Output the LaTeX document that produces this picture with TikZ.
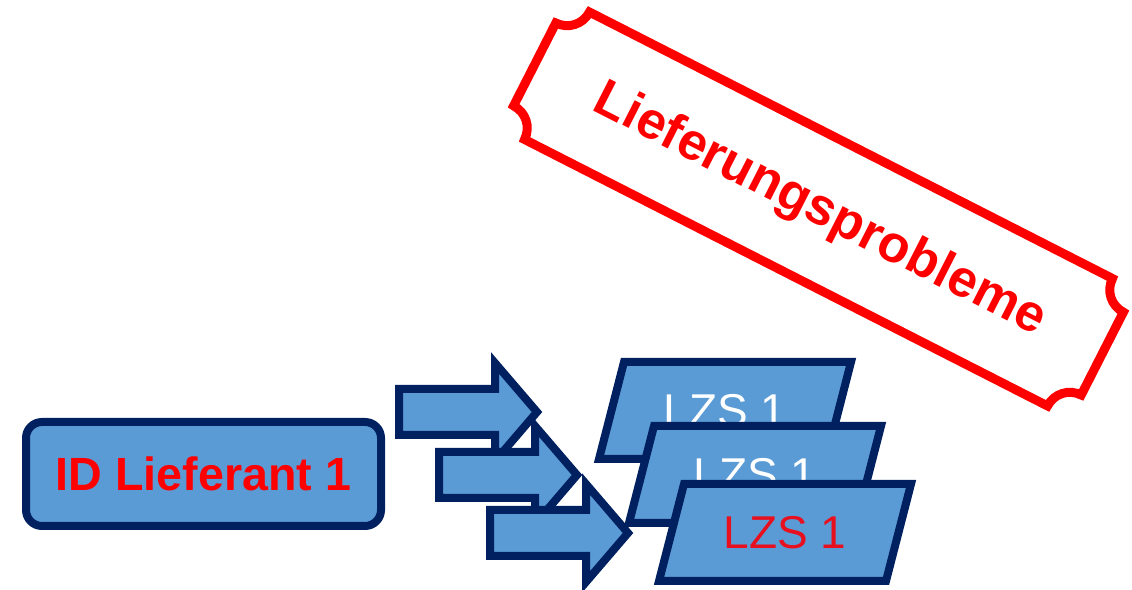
\documentclass[tikz,border=0pt]{standalone}
\usepackage{fontspec}
\setmainfont{Liberation Sans}
\definecolor{boxblue}{HTML}{5B9BD5}
\definecolor{navy}{HTML}{002060}
\definecolor{lzsred}{HTML}{E8101E}
\begin{document}
\begin{tikzpicture}
  [x=1pt,y=1pt,
   blockarrow/.style={draw=navy,fill=boxblue,line width=8pt},
   lzsbox/.style={draw=navy,fill=boxblue,line width=8pt},
   every node/.style={inner sep=0pt}]
  \useasboundingbox (0,0) rectangle (1132,589);

  % plaque
  \begin{scope}[shift={(818.5,380)},rotate=-27]
    \draw[red,line width=9pt] (-293.5,71.5) -- (293.5,71.5)
      arc[start angle=180,end angle=270,radius=25] -- (318.5,-46.5)
      arc[start angle=90,end angle=180,radius=25] -- (-293.5,-71.5)
      arc[start angle=0,end angle=90,radius=25] -- (-318.5,46.5)
      arc[start angle=270,end angle=360,radius=25] -- cycle;
  \end{scope}
  \node[rotate=-27,anchor=base,text=red,font=\bfseries\fontsize{52}{52}\selectfont] (probleme) at (813.5,366.5) {Lieferungsprobleme};

  \node[draw=navy,fill=boxblue,line width=8pt,rounded corners=16pt,
        minimum width=355pt,minimum height=104pt,text=red,
        font=\bfseries\fontsize{46.6}{50}\selectfont] (lieferant) at (203.5,115) {ID Lieferant 1};

  \foreach \x/\y in {399/177, 439/114, 490/56}
    \draw[blockarrow,shift={(\x,\y)}] (0,23) -- (96,23) -- (96,49) -- (138,0)
      -- (96,-49) -- (96,-23) -- (0,-23) -- cycle;

  \foreach \name/\x/\y/\col in {lzsa/624/227/white, lzsb/654/163/white, lzsc/684/105/lzsred} {
    \draw[lzsbox] (\x,\y) -- ++(227,0) -- ++(-25,-97) -- ++(-227,0) -- cycle;
    \node[text=\col,font=\fontsize{46}{46}\selectfont] (\name) at (\x+101,\y-48.5) {LZS 1};
  }
\end{tikzpicture}
\end{document}
